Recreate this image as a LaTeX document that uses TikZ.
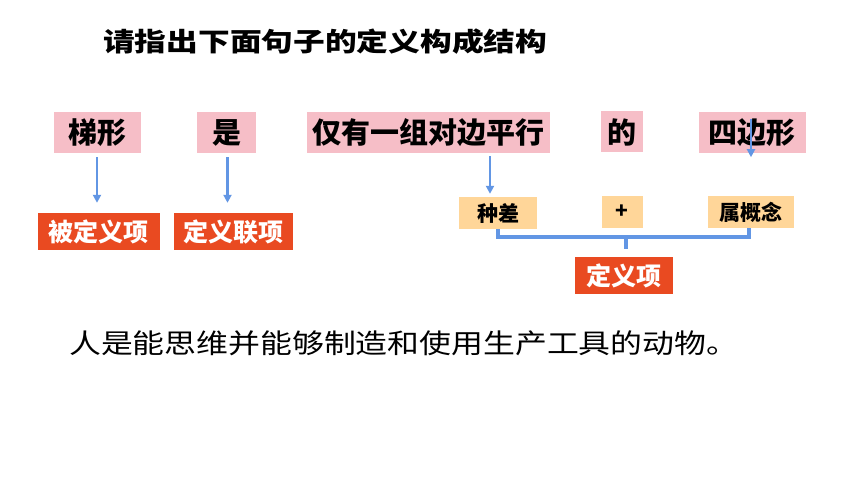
\documentclass[tikz,border=0pt]{standalone}
\usepackage{fontspec}
\setmainfont{Noto Sans CJK SC}
\usepackage{graphicx}
\usetikzlibrary{arrows.meta}
\definecolor{pinkbox}{RGB}{246,190,199}
\definecolor{tanbox}{RGB}{255,214,153}
\definecolor{redbox}{RGB}{233,74,33}
\definecolor{arrowblue}{RGB}{98,150,228}
\newcommand{\hstretch}[2]{\scalebox{#1}[1]{#2}}
\begin{document}
\begin{tikzpicture}[x=1pt,y=-1pt,
  pk/.style={fill=pinkbox, inner sep=0pt, minimum height=41pt,
    font=\fontsize{29}{29}\selectfont\bfseries, text=black},
  tn/.style={fill=tanbox, inner sep=0pt, minimum height=32pt,
    font=\fontsize{21}{21}\selectfont\bfseries, text=black},
  rd/.style={fill=redbox, inner sep=0pt, minimum height=37pt,
    font=\fontsize{25}{25}\selectfont\bfseries, text=white},
  arr/.style={draw=arrowblue, line width=2.2pt, -{Triangle[width=8pt,length=8pt]}},
  brk/.style={draw=arrowblue, line width=4pt, line join=miter},
  plain/.style={inner sep=0pt, anchor=west}]
\useasboundingbox (0,0) rectangle (860,484);
\fill[white] (0,0) rectangle (860,484);

% title
\node[plain, font=\fontsize{26}{26}\selectfont\bfseries] (title) at (103,42)
  {\hstretch{1.22}{请指出下面句子的定义构成结构}};

% top row
\node[pk, minimum width=87pt] (A) at (97.5,132.5) {梯形};
\node[pk, minimum width=59pt] (B) at (226.5,132.5) {是};
\node[pk, minimum width=243pt] (C) at (428.5,132.5) {仅有一组对边平行};
\node[pk, minimum width=42pt] (D) at (622,132) {的};
\node[pk, minimum width=107pt] (E) at (752,132.5) {四边形};

% middle row
\node[tn, minimum width=78pt] (F) at (498,213) {种差};
\node[tn, minimum width=41pt] (G) at (622,212) {+};
\node[tn, minimum width=86pt] (H) at (750.5,212) {属概念};

% red boxes
\node[rd, minimum width=122pt] (I) at (98.5,231.5) {被定义项};
\node[rd, minimum width=119pt] (J) at (233.5,231.5) {定义联项};
\node[rd, minimum width=98pt] (K) at (623.5,275.5) {定义项};

% arrows
\draw[arr] ([xshift=-0.5pt,yshift=-4pt]A.south) -- ([xshift=-0.5pt,yshift=10pt]A.south |- I.north);
\draw[arr] ([xshift=1pt,yshift=-4pt]B.south) -- ([xshift=1pt,yshift=10pt]B.south |- J.north);
\draw[arr] ([xshift=-8pt,yshift=-3pt]F.north |- C.south) -- ([xshift=-8pt,yshift=3pt]F.north);
\draw[arr] ([xshift=-1pt,yshift=-7pt]E.north) -- ([xshift=-1pt,yshift=-4pt]E.south);

% bracket
\coordinate (m) at (625.7,237);
\draw[brk] (F.south) |- (m) -| ([xshift=-1.5pt]H.south);
\draw[brk] (m) -- ([yshift=8pt]m |- K.north);

% sentence
\node[plain, font=\fontsize{27}{27}\selectfont] (S) at (69,343)
  {\hstretch{1.18}{人是能思维并能够制造和使用生产工具的动物。}};
\end{tikzpicture}
\end{document}
